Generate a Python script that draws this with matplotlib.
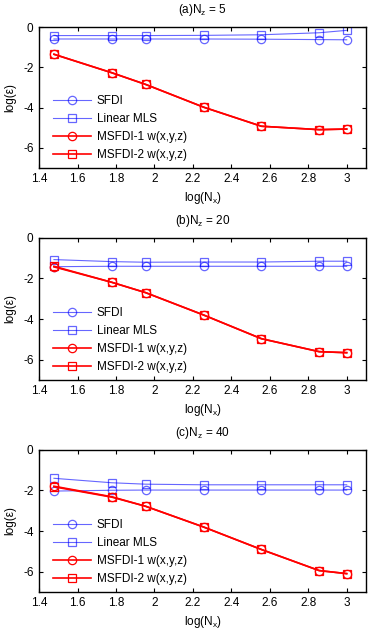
import numpy as np
import matplotlib
matplotlib.use('Agg')
import matplotlib.pyplot as plt

plt.rcParams['font.family'] = ['Liberation Sans', 'DejaVu Sans']
plt.rcParams['font.size'] = 8.5
plt.rcParams['mathtext.fontset'] = 'custom'
plt.rcParams['mathtext.rm'] = 'Liberation Sans'
plt.rcParams['mathtext.it'] = 'Liberation Sans'

# log10 of Nx = 30, 60, 90, 180, 360, 720, 1000
log_nx = [1.477, 1.778, 1.954, 2.255, 2.556, 2.857, 3.0]

titles = ['(a)N$_z$ = 5', '(b)N$_z$ = 20', '(c)N$_z$ = 40']

sfdi = [
    [-0.59, -0.59, -0.59, -0.59, -0.60, -0.62, -0.63],
    [-1.42, -1.40, -1.40, -1.40, -1.40, -1.40, -1.40],
    [-2.03, -1.99, -1.98, -1.98, -1.98, -1.98, -1.98],
]
linear_mls = [
    [-0.42, -0.42, -0.42, -0.41, -0.38, -0.28, -0.16],
    [-1.07, -1.17, -1.20, -1.19, -1.19, -1.15, -1.15],
    [-1.40, -1.62, -1.69, -1.72, -1.72, -1.72, -1.72],
]
msfdi1 = [
    [-1.35, -2.27, -2.85, -3.98, -4.93, -5.10, -5.07],
    [-1.43, -2.19, -2.70, -3.80, -4.97, -5.61, -5.66],
    [-1.79, -2.31, -2.78, -3.80, -4.91, -5.95, -6.10],
]
msfdi2 = [
    [-1.35, -2.27, -2.85, -3.98, -4.93, -5.10, -5.07],
    [-1.40, -2.19, -2.70, -3.80, -4.97, -5.61, -5.66],
    [-1.82, -2.33, -2.78, -3.80, -4.91, -5.95, -6.10],
]

fig = plt.figure(figsize=(3.73, 6.31), dpi=100)

boxes = [(0.105, 0.734, 0.876, 0.223),
         (0.105, 0.398, 0.876, 0.225),
         (0.105, 0.062, 0.876, 0.225)]

for k in range(3):
    ax = fig.add_axes(boxes[k])
    ax.plot(log_nx, sfdi[k], color='blue', alpha=0.6, lw=0.8, marker='o',
            mfc='none', ms=6, mew=0.9, label='SFDI')
    ax.plot(log_nx, linear_mls[k], color='blue', alpha=0.6, lw=0.8, marker='s',
            mfc='none', ms=6, mew=0.9, label='Linear MLS')
    ax.plot(log_nx, msfdi1[k], color='red', lw=1.2, marker='o',
            mfc='none', ms=6, mew=0.9, label='MSFDI-1 w(x,y,z)')
    ax.plot(log_nx, msfdi2[k], color='red', lw=1.2, marker='s',
            mfc='none', ms=6, mew=0.9, label='MSFDI-2 w(x,y,z)')
    ax.set_xlim(1.4, 3.1)
    ax.set_ylim(-7, 0)
    ax.set_xticks([1.4, 1.6, 1.8, 2, 2.2, 2.4, 2.6, 2.8, 3])
    ax.set_xticklabels(['1.4', '1.6', '1.8', '2', '2.2', '2.4', '2.6', '2.8', '3'])
    ax.set_yticks([0, -2, -4, -6])
    ax.set_yticklabels(['0', '-2', '-4', '-6'])
    ax.tick_params(direction='in', top=True, right=True, length=3, width=0.8,
                   pad=4)
    for s in ax.spines.values():
        s.set_linewidth(1.0)
    ax.set_title(titles[k], fontsize=8.5, pad=10)
    ax.set_xlabel('log(N$_x$)', labelpad=3)
    ax.set_ylabel('log(ε)', labelpad=5)
    ax.legend(loc='lower left', bbox_to_anchor=(0.01, -0.025), frameon=False,
              handlelength=3.2, handletextpad=0.5, labelspacing=0.5,
              fontsize=8.5)

fig.savefig('out.png', dpi=100)
